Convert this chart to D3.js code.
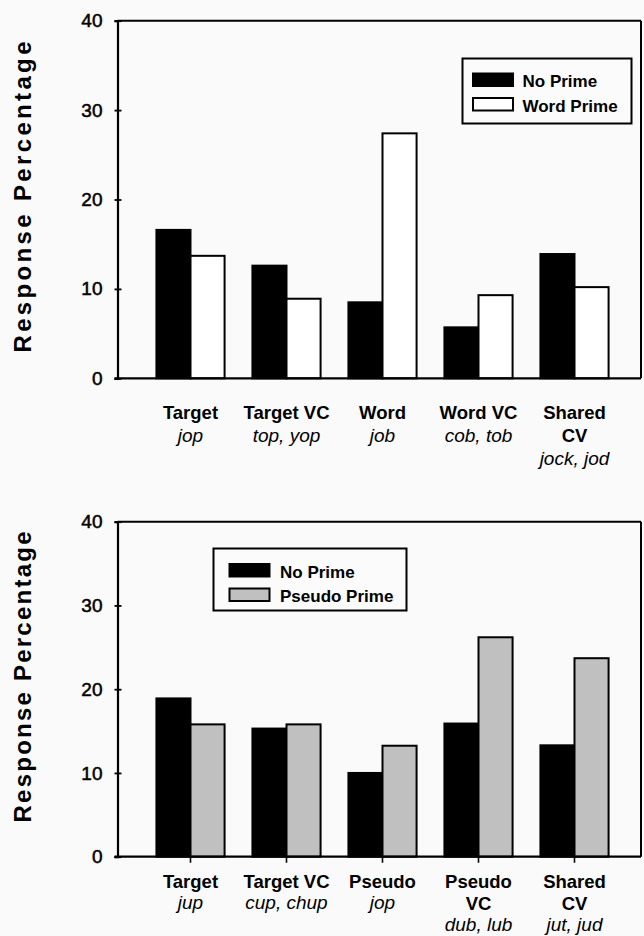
<!DOCTYPE html>
<html>
<head>
<meta charset="utf-8">
<script src="https://cdn.jsdelivr.net/npm/d3@7"></script>
<style>
  html, body { margin: 0; padding: 0; background: #fafafa; }
  svg { display: block; }
  text { font-family: "Liberation Sans", Arial, sans-serif; fill: #000; }
</style>
</head>
<body>
<svg id="chart" width="644" height="936"></svg>
<script>
// ---------- DATA ----------
const yTicks = [0, 10, 20, 30, 40];
const yTitle = "Response Percentage";

// Panel 1 (word prime)
const topCategories = [["Target"], ["Target VC"], ["Word"], ["Word VC"], ["Shared", "CV"]];
const topExamples = ["jop", "top, yop", "job", "cob, tob", "jock, jod"];
const topSeriesNames = ["No Prime", "Word Prime"];
const topNoPrime = [16.6, 12.6, 8.5, 5.7, 13.9];
const topWordPrime = [13.7, 8.9, 27.4, 9.3, 10.2];

// Panel 2 (pseudo prime)
const botCategories = [["Target"], ["Target VC"], ["Pseudo"], ["Pseudo", "VC"], ["Shared", "CV"]];
const botExamples = ["jup", "cup, chup", "jop", "dub, lub", "jut, jud"];
const botSeriesNames = ["No Prime", "Pseudo Prime"];
const botNoPrime = [18.9, 15.3, 10.0, 15.9, 13.3];
const botPseudoPrime = [15.8, 15.8, 13.25, 26.2, 23.7];

// ---------- DRAW ----------
const svg = d3.select("#chart");

function panel(cfg) {
  const { x0, x1, yTop, yBase, cats, examples, names, s1, s2, fill2,
          legend, xTicks, labelY, lineH, titleLen, titleCenter } = cfg;
  const g = svg.append("g");
  const y = d3.scaleLinear().domain([0, 40]).range([yBase, yTop]);
  const idx = cats.map((d, i) => i);
  const x = d3.scaleBand().domain(idx).range([x0 + 25, x0 + 25 + 480])
    .paddingInner(0.29).paddingOuter(0.145);
  const xs = d3.scaleBand().domain([0, 1]).range([0, x.bandwidth()]);

  // frame (top + right)
  g.append("line").attr("x1", x0).attr("x2", x1).attr("y1", yTop).attr("y2", yTop)
    .attr("stroke", "#000").attr("stroke-width", 2);
  g.append("line").attr("x1", x1).attr("x2", x1).attr("y1", yTop).attr("y2", yBase)
    .attr("stroke", "#000").attr("stroke-width", 2);

  // y axis
  const ay = g.append("g").attr("transform", `translate(${x0},0)`)
    .call(d3.axisLeft(y).tickValues(yTicks).tickSize(3).tickPadding(12));
  ay.select(".domain").attr("stroke", "#000").attr("stroke-width", 2.2);
  ay.selectAll(".tick line").attr("x1", 4).attr("stroke", "#000").attr("stroke-width", 1.8);
  ay.selectAll(".tick text").style("font-size", "19px")
    .style("font-family", "'Liberation Sans', Arial, sans-serif")
    .attr("stroke", "#000").attr("stroke-width", 0.5);

  // bars
  const data = idx.map(i => [s1[i], s2[i]]);
  const grp = g.selectAll(".grp").data(data).join("g")
    .attr("transform", (d, i) => `translate(${x(i)},0)`);
  grp.selectAll("rect").data(d => d.map((v, k) => ({ v, k }))).join("rect")
    .attr("x", d => xs(d.k))
    .attr("width", xs.bandwidth())
    .attr("y", d => y(d.v))
    .attr("height", d => y(0) - y(d.v))
    .attr("fill", d => d.k === 0 ? "#000" : fill2)
    .attr("stroke", "#000").attr("stroke-width", 2);

  // x axis baseline
  g.append("line").attr("x1", x0 - 3).attr("x2", x1).attr("y1", yBase).attr("y2", yBase)
    .attr("stroke", "#000").attr("stroke-width", 2.2);
  if (xTicks) {
    const ax = g.append("g").attr("transform", `translate(0,${yBase})`)
      .call(d3.axisBottom(x).tickSize(6).tickFormat(""));
    ax.select(".domain").remove();
    ax.selectAll(".tick line").attr("stroke", "#000").attr("stroke-width", 1.6);
  }

  // category labels
  idx.forEach(i => {
    const cx = x(i) + x.bandwidth() / 2;
    const lines = cats[i];
    lines.forEach((t, j) => {
      g.append("text").attr("x", cx).attr("y", labelY + j * lineH)
        .attr("text-anchor", "middle").style("font-size", "18.5px").style("font-weight", "bold")
        .text(t);
    });
    g.append("text").attr("x", cx).attr("y", labelY + lines.length * lineH - 0.5)
      .attr("text-anchor", "middle").style("font-size", "19px").style("font-style", "italic")
      .text(examples[i]);
  });

  // y title
  g.append("text")
    .attr("transform", `translate(31,${titleCenter}) rotate(-90)`)
    .attr("text-anchor", "middle")
    .attr("textLength", titleLen).attr("lengthAdjust", "spacing")
    .style("font-size", "24px").style("font-weight", "bold")
    .text(yTitle);

  // legend
  const lg = g.append("g");
  lg.append("rect").attr("x", legend.x).attr("y", legend.y).attr("width", legend.w).attr("height", legend.h)
    .attr("fill", "#fbfbfb").attr("stroke", "#000").attr("stroke-width", 2);
  names.forEach((n, k) => {
    const sy = legend.y + legend.sy0 + k * 24.5;
    lg.append("rect").attr("x", legend.x + legend.sx).attr("y", sy).attr("width", 40).attr("height", 12.5)
      .attr("fill", k === 0 ? "#000" : fill2).attr("stroke", "#000").attr("stroke-width", 2);
    lg.append("text").attr("x", legend.x + legend.tx).attr("y", sy + 13.5)
      .style("font-size", "17px").style("font-weight", "bold").text(n);
  });
}

panel({
  x0: 117.5, x1: 641, yTop: 20.7, yBase: 378.3,
  cats: topCategories, examples: topExamples, names: topSeriesNames,
  s1: topNoPrime, s2: topWordPrime, fill2: "#ffffff",
  legend: { x: 462.5, y: 58.5, w: 169, h: 65, sx: 10.5, sy0: 15, tx: 60 },
  xTicks: false, labelY: 419, lineH: 23, titleLen: 311, titleCenter: 197
});

panel({
  x0: 117.5, x1: 641, yTop: 521.7, yBase: 856.7,
  cats: botCategories, examples: botExamples, names: botSeriesNames,
  s1: botNoPrime, s2: botPseudoPrime, fill2: "#c0c0c0",
  legend: { x: 213.5, y: 548.5, w: 193, h: 62, sx: 16, sy0: 15.5, tx: 66.5 },
  xTicks: true, labelY: 887.5, lineH: 22, titleLen: 291, titleCenter: 677
});
</script>
</body>
</html>
